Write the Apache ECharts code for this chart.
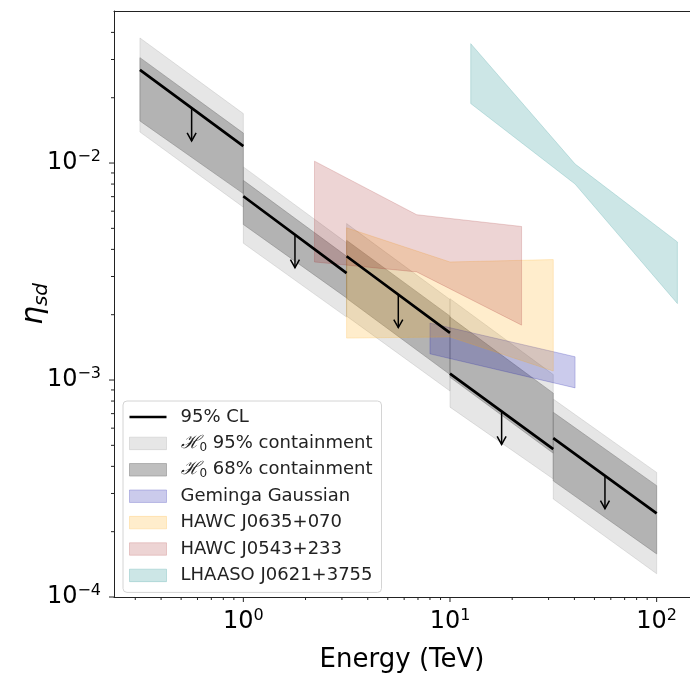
<!DOCTYPE html>
<html>
<head>
<meta charset="utf-8">
<script src="https://cdn.jsdelivr.net/npm/echarts@6/dist/echarts.min.js"></script>
<style>
html, body { margin: 0; padding: 0; background: #fff; }
#chart { width: 690px; height: 673px; }
</style>
</head>
<body>
<div id="chart"></div>
<script>
// energy bins (TeV)
var binEdges = [0.316, 1, 3.16, 10, 31.6, 100];
// 95% CL upper limit, at left / right end of each bin
var clLeft  = [0.0269, 7.03e-3, 3.72e-3, 1.07e-3, 5.4e-4];
var clRight = [0.01197, 3.11e-3, 1.65e-3, 4.8e-4, 2.43e-4];
// H0 containment bands
var up95Left  = [0.0377, 9.6e-3, 5.26e-3, 2.37e-3, 8.17e-4];
var up95Right = [0.0169, 4.29e-3, 2.35e-3, 1.06e-3, 3.75e-4];
var lo95Left  = [0.0139, 4.27e-3, 1.97e-3, 7.5e-4, 2.83e-4];
var lo95Right = [6.26e-3, 1.95e-3, 8.9e-4, 3.5e-4, 1.28e-4];
var up68Left  = [0.0306, 8.32e-3, 4.4e-3, 1.95e-3, 7.1e-4];
var up68Right = [0.01374, 3.72e-3, 1.97e-3, 8.7e-4, 3.26e-4];
var lo68Left  = [0.01563, 5.21e-3, 2.38e-3, 1.03e-3, 3.43e-4];
var lo68Right = [7.23e-3, 2.39e-3, 1.06e-3, 4.6e-4, 1.58e-4];
// source regions [energy, eta]
var geminga  = [[8.0, 1.83e-3], [40.3, 1.28e-3], [40.3, 9.2e-4], [8.0, 1.32e-3]];
var hawc0635 = [[3.16, 5.03e-3], [10, 3.5e-3], [31.6, 3.59e-3], [31.6, 1.1e-3], [10, 1.58e-3], [3.16, 1.56e-3]];
var hawc0543 = [[2.21, 0.0102], [6.9, 5.78e-3], [22.2, 5.1e-3], [22.2, 1.79e-3], [6.9, 3.15e-3], [2.21, 3.5e-3]];
var lhaaso   = [[12.6, 0.0355], [40.3, 9.9e-3], [126, 4.33e-3], [126, 2.25e-3], [40.3, 8.0e-3], [12.6, 0.0188]];
// ticks
var xMajor = [1, 10, 100];
var xMinor = [0.3, 0.4, 0.5, 0.6, 0.7, 0.8, 0.9, 2, 3, 4, 5, 6, 7, 8, 9, 20, 30, 40, 50, 60, 70, 80, 90];
var yMajor = [1e-4, 1e-3, 1e-2];
var yMinor = [2e-4, 3e-4, 4e-4, 5e-4, 6e-4, 7e-4, 8e-4, 9e-4, 2e-3, 3e-3, 4e-3, 5e-3, 6e-3, 7e-3, 8e-3, 9e-3, 2e-2, 3e-2, 4e-2];

var X_MIN = 0.2367, X_MAX = 145, Y_MIN = 1e-4, Y_MAX = 0.0502;
var FONT = 'DejaVu Sans';

function bandPolys(loL, loR, hiL, hiR) {
    var out = [];
    for (var i = 0; i < loL.length; i++) {
        var x0 = binEdges[i], x1 = binEdges[i + 1];
        out.push([[x0, loL[i]], [x1, loR[i]], [x1, hiR[i]], [x0, hiL[i]]]);
    }
    return out;
}

function polySeries(name, polys, fill, z) {
    return {
        name: name,
        type: 'custom',
        z: z,
        silent: true,
        renderItem: function (params, api) {
            var pts = polys[params.dataIndex].map(function (p) { return api.coord(p); });
            return {
                type: 'polygon',
                shape: { points: pts },
                style: { fill: fill, stroke: fill, lineWidth: 1 }
            };
        },
        data: polys.map(function (p) { return p[0]; })
    };
}

// 轴刻度自己画（对数轴的次刻度）
function tickSeries(values, isX, len) {
    return {
        type: 'custom',
        z: 10,
        silent: true,
        renderItem: function (params, api) {
            var v = values[params.dataIndex];
            var p = isX ? api.coord([v, Y_MIN]) : api.coord([X_MIN, v]);
            var shape = isX ? { x1: p[0], y1: p[1], x2: p[0], y2: p[1] + len }
                            : { x1: p[0], y1: p[1], x2: p[0] - len, y2: p[1] };
            return { type: 'line', shape: shape, style: { stroke: '#222', lineWidth: 1 } };
        },
        data: values.map(function (v) { return isX ? [v, Y_MIN] : [X_MIN, v]; })
    };
}

var clData = [];
for (var i = 0; i < clLeft.length; i++) {
    clData.push([binEdges[i], clLeft[i]], [binEdges[i + 1], clRight[i]], [binEdges[i + 1], '-']);
}

function powLabel(v) {
    var l = Math.log10(v), e = Math.round(l);
    if (Math.abs(l - e) > 1e-6) return '';
    return '{b|10}{e|' + (e < 0 ? '\u2212' + (-e) : e) + '}';
}
var labelRich = {
    b: { fontSize: 24, fontFamily: FONT, color: '#000', lineHeight: 28 },
    e: { fontSize: 16, fontFamily: FONT, color: '#000', lineHeight: 16, verticalAlign: 'top' }
};

var gray95 = 'rgba(128,128,128,0.2)';
var gray68 = 'rgba(128,128,128,0.5)';
var cGem = 'rgba(20,20,170,0.22)';
var cOrange = 'rgba(255,165,0,0.2)';
var cRed = 'rgba(165,42,42,0.2)';
var cTeal = 'rgba(0,128,128,0.2)';

var myChart = echarts.init(document.getElementById('chart'));
var option = {
    animation: false,
    grid: { left: 114, top: 11, right: 0, bottom: 76, outerBoundsMode: 'none', containLabel: false },
    xAxis: [
        {
            type: 'log', logBase: 10, min: X_MIN, max: X_MAX,
            name: 'Energy (TeV)', nameLocation: 'middle', nameGap: 50, nameMoveOverlap: false,
            nameTextStyle: { fontSize: 26, fontFamily: FONT, color: '#000' },
            axisLine: { show: true, lineStyle: { color: '#222', width: 1 } },
            axisTick: { show: false },
            splitLine: { show: false },
            axisLabel: { margin: 11, formatter: powLabel, rich: labelRich, showMinLabel: false, showMaxLabel: false }
        },
        {
            // 上边框
            type: 'log', logBase: 10, min: X_MIN, max: X_MAX, position: 'top',
            axisLine: { show: true, onZero: false, lineStyle: { color: '#222', width: 1 } },
            axisTick: { show: false },
            axisLabel: { show: false },
            splitLine: { show: false }
        }
    ],
    yAxis: {
        type: 'log', logBase: 10, min: Y_MIN, max: Y_MAX,
        name: '{n|\u03b7}{s|sd}', nameLocation: 'middle', nameGap: 62, nameRotate: 90, nameMoveOverlap: false,
        nameTextStyle: {
            rich: {
                n: { fontSize: 30, fontFamily: FONT, fontStyle: 'italic', color: '#000', lineHeight: 36 },
                s: { fontSize: 20, fontFamily: FONT, fontStyle: 'italic', color: '#000', lineHeight: 23, verticalAlign: 'bottom' }
            }
        },
        axisLine: { show: true, lineStyle: { color: '#222', width: 1 } },
        axisTick: { show: false },
        splitLine: { show: false },
        axisLabel: { margin: 13, formatter: powLabel, rich: labelRich, showMinLabel: true, showMaxLabel: false }
    },
    legend: {
        orient: 'vertical',
        left: 123, top: 401,
        padding: [6, 9, 7, 6],
        itemWidth: 37, itemHeight: 12.5, itemGap: 6.4,
        borderColor: '#d4d4d4', borderWidth: 1, borderRadius: 4,
        backgroundColor: 'rgba(255,255,255,0.8)',
        selectedMode: false,
        formatter: function (name) { return name.replace(/^H0 /, '{h|\u210b}{sub|0} '); },
        textStyle: {
            fontSize: 18, fontFamily: FONT, color: '#222', lineHeight: 20, padding: [0, 0, 0, 9],
            rich: {
                h: { fontSize: 18, fontFamily: 'DejaVu Serif', fontStyle: 'italic', color: '#222', lineHeight: 20 },
                sub: { fontSize: 12, fontFamily: FONT, color: '#222', lineHeight: 12, verticalAlign: 'bottom' }
            }
        },
        data: [
            { name: '95% CL', icon: 'path://M0 0H370V27H0Z', itemStyle: { color: '#000', borderWidth: 0 } },
            { name: 'H0 95% containment', icon: 'rect', itemStyle: { color: gray95, borderColor: gray95, borderWidth: 1 } },
            { name: 'H0 68% containment', icon: 'rect', itemStyle: { color: gray68, borderColor: gray68, borderWidth: 1 } },
            { name: 'Geminga Gaussian', icon: 'rect', itemStyle: { color: cGem, borderColor: cGem, borderWidth: 1 } },
            { name: 'HAWC J0635+070', icon: 'rect', itemStyle: { color: cOrange, borderColor: cOrange, borderWidth: 1 } },
            { name: 'HAWC J0543+233', icon: 'rect', itemStyle: { color: cRed, borderColor: cRed, borderWidth: 1 } },
            { name: 'LHAASO J0621+3755', icon: 'rect', itemStyle: { color: cTeal, borderColor: cTeal, borderWidth: 1 } }
        ]
    },
    series: [
        polySeries('H0 95% containment', bandPolys(lo95Left, lo95Right, up95Left, up95Right), gray95, 1),
        polySeries('H0 68% containment', bandPolys(lo68Left, lo68Right, up68Left, up68Right), gray68, 2),
        polySeries('Geminga Gaussian', [geminga], cGem, 3),
        polySeries('HAWC J0635+070', [hawc0635], cOrange, 3),
        polySeries('HAWC J0543+233', [hawc0543], cRed, 3),
        polySeries('LHAASO J0621+3755', [lhaaso], cTeal, 3),
        {
            name: '95% CL',
            type: 'line',
            z: 5,
            data: clData,
            symbol: 'none',
            showSymbol: false,
            connectNulls: false,
            lineStyle: { color: '#000', width: 2.7 },
            itemStyle: { color: '#000' },
            silent: true
        },
        {
            // 每个bin中点的向下箭头
            type: 'custom',
            z: 6,
            silent: true,
            renderItem: function (params, api) {
                var i = params.dataIndex;
                var xm = Math.sqrt(binEdges[i] * binEdges[i + 1]);
                var ym = Math.sqrt(clLeft[i] * clRight[i]);
                var p = api.coord([xm, ym]);
                var tip = p[1] + 33;
                return {
                    type: 'group',
                    children: [
                        { type: 'line', shape: { x1: p[0], y1: p[1], x2: p[0], y2: tip }, style: { stroke: '#000', lineWidth: 1.5 } },
                        { type: 'polyline', shape: { points: [[p[0] - 4.5, tip - 8], [p[0], tip], [p[0] + 4.5, tip - 8]] }, style: { stroke: '#000', lineWidth: 1.5, fill: null } }
                    ]
                };
            },
            data: clLeft.map(function (v, i) { return [binEdges[i], v]; })
        },
        tickSeries(xMajor, true, 5),
        tickSeries(xMinor, true, 3),
        tickSeries(yMajor, false, 5),
        tickSeries(yMinor, false, 3)
    ]
};
myChart.setOption(option);
</script>
</body>
</html>
